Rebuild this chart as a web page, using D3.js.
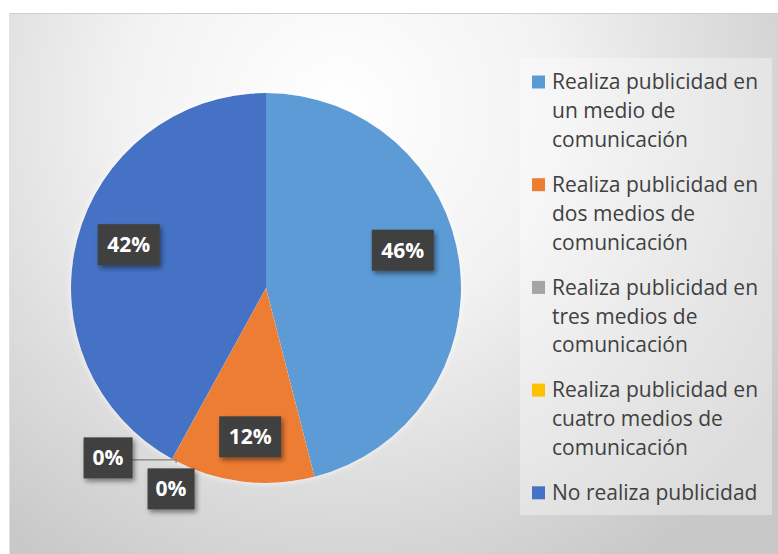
<!DOCTYPE html>
<html><head><meta charset="utf-8">
<script src="https://cdn.jsdelivr.net/npm/d3@7"></script>
<style>html,body{margin:0;padding:0;background:#fff;}svg{display:block;}</style>
</head><body>
<script>
const categories = [
  "Realiza publicidad en un medio de comunicación",
  "Realiza publicidad en dos medios de comunicación",
  "Realiza publicidad en tres medios de comunicación",
  "Realiza publicidad en cuatro medios de comunicación",
  "No realiza publicidad"
];
const values = [46, 12, 0, 0, 42];
const labels = ["46%", "12%", "0%", "0%", "42%"];
const colors = ["#5B9BD5", "#ED7D31", "#A5A5A5", "#FFC000", "#4472C4"];

const W = 778, H = 554;
const svg = d3.select("body").append("svg").attr("width", W).attr("height", H);
const defs = svg.append("defs");
const rg = defs.append("radialGradient").attr("id","bg")
  .attr("gradientUnits","userSpaceOnUse").attr("cx",340).attr("cy",110).attr("r",540);
rg.append("stop").attr("offset","0%").attr("stop-color","#ffffff");
rg.append("stop").attr("offset","40%").attr("stop-color","#f2f2f2");
rg.append("stop").attr("offset","100%").attr("stop-color","#c8c8c8");
const sh = defs.append("filter").attr("id","sh").attr("x","-30%").attr("y","-30%").attr("width","170%").attr("height","170%");
sh.append("feDropShadow").attr("dx",2).attr("dy",3).attr("stdDeviation",2.5).attr("flood-color","#000").attr("flood-opacity",0.45);
const psh = defs.append("filter").attr("id","psh").attr("x","-10%").attr("y","-10%").attr("width","120%").attr("height","120%");
psh.append("feDropShadow").attr("dx",0).attr("dy",0).attr("stdDeviation",3).attr("flood-color","#ffffff").attr("flood-opacity",0.8);

svg.append("rect").attr("x",9).attr("y",13).attr("width",W-9).attr("height",H-13)
  .attr("fill","url(#bg)");
svg.append("line").attr("x1",9).attr("x2",W).attr("y1",13.5).attr("y2",13.5).attr("stroke","#d0d0d0");
svg.append("line").attr("x1",9.5).attr("x2",9.5).attr("y1",13).attr("y2",H).attr("stroke","#e2e2e2");

const cx = 266, cy = 288, R = 195;
const pie = d3.pie().sort(null).value(d => d)(values);
const arc = d3.arc().innerRadius(0).outerRadius(R);
const g = svg.append("g").attr("transform", `translate(${cx},${cy})`);
g.append("g").attr("filter","url(#psh)").selectAll("path").data(pie).join("path")
  .attr("d", arc).attr("fill", (d,i) => colors[i]);

// labels
const labArc = d3.arc().innerRadius(150).outerRadius(150);
const edge = d3.arc().innerRadius(R).outerRadius(R);
const lg = g.append("g");
const boxW = [62, 62, 49, 47, 62], boxH = 41;
pie.forEach((d, i) => {
  let x, y;
  if (values[i] > 0) {
    [x, y] = labArc.centroid(d);
    if (i === 0) { x -= 12; y -= 19; }
    if (i === 4) { x += 8; y -= 6; }
    if (i === 1) { x += 3; y += 0; }
  } else {
    const [ex, ey] = edge.centroid(d);
    if (i === 2) {
      x = ex - 64; y = ey - 1;
      lg.append("polyline").attr("points", `${x + 24},${y + 2} ${ex + 4},${y + 2} ${ex + 4},${y + 5}`)
        .attr("fill","none").attr("stroke","#7f7f7f").attr("stroke-width",1.2);
    } else {
      x = ex - 1; y = ey + 30;
    }
  }
  const bw = boxW[i];
  lg.append("rect").attr("x", x - bw/2).attr("y", y - boxH/2).attr("width", bw).attr("height", boxH)
    .attr("fill", "#404040").attr("filter","url(#sh)");
  lg.append("text").attr("x", x).attr("y", y).attr("dy","0.36em").attr("text-anchor","middle")
    .attr("fill","#fff").attr("font-family","'Open Sans', sans-serif").attr("font-weight","bold")
    .attr("font-size", 21).text(labels[i]);
});

// legend
const leg = svg.append("g");
leg.append("rect").attr("x",520).attr("y",58).attr("width",252).attr("height",457)
  .attr("fill","#ffffff").attr("fill-opacity",0.35);
const lineH = 28.8, gap = 16.3, maxW = 212, fs = 21;
let ly = 82;
categories.forEach((c, i) => {
  leg.append("rect").attr("x",532).attr("y",ly-6.5).attr("width",13).attr("height",13).attr("fill",colors[i]);
  const words = c.split(" ");
  let lines = [], cur = "";
  const probe = leg.append("text").attr("font-family","'Open Sans', sans-serif").attr("font-size",fs);
  words.forEach(w => {
    const test = cur ? cur + " " + w : w;
    probe.text(test);
    if (probe.node().getComputedTextLength() > maxW && cur) { lines.push(cur); cur = w; }
    else cur = test;
  });
  lines.push(cur);
  probe.remove();
  lines.forEach((l, k) => {
    leg.append("text").attr("x",552).attr("y", ly + k*lineH)
      .attr("dy","0.35em").attr("font-family","'Open Sans', sans-serif").attr("font-size",fs)
      .attr("fill","#404040").text(l);
  });
  ly += lines.length * lineH + gap;
});
</script>
</body></html>
